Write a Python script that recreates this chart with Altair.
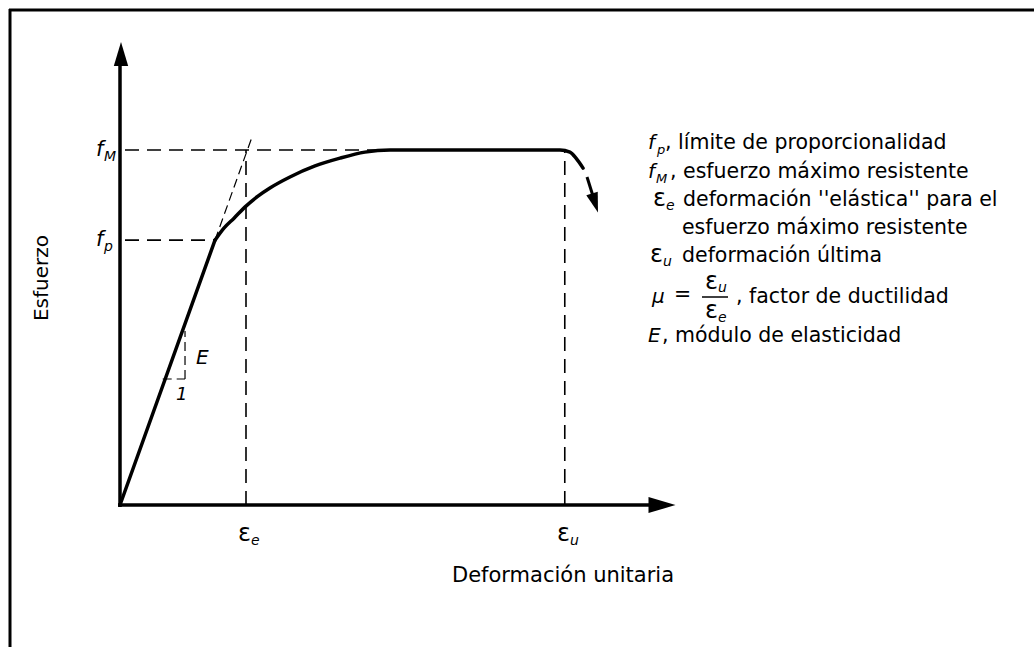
import altair as alt
import pandas as pd

# ---------------- values ----------------
# strain measured in units of eps_e, stress in units of f_M
eps_e = 1.0
eps_u = 3.53
f_M = 1.0
f_p = 0.746
eps_p = 0.754

# straight elastic branch
elastic_x = [0.0, 0.754]
elastic_y = [0.0, 0.746]
# curved inelastic branch, plateau and drop
plastic_x = [0.754, 0.825, 0.905, 1.0, 1.095, 1.190, 1.349, 1.548, 1.746, 1.944, 2.143,
             3.492, 3.571, 3.619, 3.675]
plastic_y = [0.746, 0.780, 0.808, 0.842, 0.870, 0.893, 0.924, 0.955, 0.977, 0.994, 1.0,
             1.0, 0.994, 0.977, 0.949]

legend_lines = [
    ", límite de proporcionalidad",
    ", esfuerzo máximo resistente",
    "deformación ''elástica'' para el",
    "esfuerzo máximo resistente",
    "deformación última",
    ", factor de ductilidad",
    ", módulo de elasticidad",
]
y_title = "Esfuerzo"
x_title = "Deformación unitaria"

# ---------------- layout helpers (pixel -> data) ----------------
W, H = 1034, 647
OX, OY = 120, 505          # origin
SX, SY = 126, 355          # pixels per unit


def X(px):
    return (px - OX) / SX


def Y(py):
    return (OY - py) / SY


xs = alt.Scale(domain=[X(0), X(W)], nice=False, zero=False)
ys = alt.Scale(domain=[Y(H), Y(0)], nice=False, zero=False)
FONT = "DejaVu Sans"


def xq(f="x"):
    return alt.X(f"{f}:Q", scale=xs, axis=None)


def yq(f="y"):
    return alt.Y(f"{f}:Q", scale=ys, axis=None)


# ---------------- main curve ----------------
elastic = alt.Chart(pd.DataFrame({"x": elastic_x, "y": elastic_y})).mark_line(
    color="black", strokeWidth=3.5, strokeCap="round"
).encode(x=xq(), y=yq(), order="x:Q")

plastic = alt.Chart(pd.DataFrame({"x": plastic_x, "y": plastic_y})).mark_line(
    color="black", strokeWidth=3.5, interpolate="monotone", strokeCap="round"
).encode(x=xq(), y=yq(), order="x:Q")

# ---------------- axes (lines) ----------------
E_mod = f_p / eps_p
axes_df = pd.DataFrame({
    "x": [0.0, X(118)],
    "y": [Y(507), 0.0],
    "x2": [0.0, X(655)],
    "y2": [Y(60), 0.0],
})
axes = alt.Chart(axes_df).mark_rule(color="black", strokeWidth=3.5).encode(
    x=xq(), y=yq(), x2="x2:Q", y2="y2:Q")

# ---------------- dashed guides ----------------
dash_df = pd.DataFrame({
    "x": [X(125), X(125), eps_e, eps_u],
    "y": [f_M, f_p, 0.0, 0.0],
    "x2": [eps_u, eps_p, eps_e, eps_u],
    "y2": [f_M, f_p, f_M, f_M],
})
dashed = alt.Chart(dash_df).mark_rule(
    color="black", strokeWidth=1.6, strokeDash=[14, 8]
).encode(x=xq(), y=yq(), x2="x2:Q", y2="y2:Q")

tri_x = 0.516
tri_y = 0.355
tri_top = 0.49
thin_df = pd.DataFrame({
    "x": [eps_p, tri_x, tri_y / E_mod - 0.02],
    "y": [f_p, tri_y, tri_y],
    "x2": [1.05, tri_x, tri_x],
    "y2": [1.05 * E_mod, tri_top, tri_y],
})
thin = alt.Chart(thin_df).mark_rule(
    color="black", strokeWidth=1.2, strokeDash=[9, 5]
).encode(x=xq(), y=yq(), x2="x2:Q", y2="y2:Q")

# ---------------- arrow heads ----------------
stem_df = pd.DataFrame({"x": [X(587)], "y": [Y(177)], "x2": [X(593)], "y2": [Y(196)]})
stem = alt.Chart(stem_df).mark_rule(color="black", strokeWidth=3).encode(
    x=xq(), y=yq(), x2="x2:Q", y2="y2:Q")

heads_df = pd.DataFrame({
    "x": [X(121), X(662), X(595)],
    "y": [Y(54), Y(505), Y(203)],
    "angle": [0, 90, 162.6],
    "size": [24 ** 2, 27 ** 2, 20 ** 2],
})
heads = alt.Chart(heads_df).mark_point(
    shape="M0,-1L0.6,1L-0.6,1Z", filled=True, color="black", opacity=1, strokeWidth=0
).encode(x=xq(), y=yq(),
         angle=alt.Angle("angle:Q", scale=None),
         size=alt.Size("size:Q", scale=None))

# ---------------- frame ----------------
frame_top = alt.Chart(pd.DataFrame({"a": [0]})).mark_rule(color="black", strokeWidth=3).encode(
    x=alt.value(9), x2=alt.value(W), y=alt.value(10))
frame_left = alt.Chart(pd.DataFrame({"a": [0]})).mark_rule(color="black", strokeWidth=3).encode(
    x=alt.value(10), y=alt.value(9), y2=alt.value(H))

# fraction bar in the legend
bar_df = pd.DataFrame({"x": [X(702)], "x2": [X(728)], "y": [Y(297)]})
frac_bar = alt.Chart(bar_df).mark_rule(color="black", strokeWidth=1.5).encode(
    x=xq(), x2="x2:Q", y=yq())

# ---------------- texts ----------------
normal_df = pd.DataFrame({
    "t": legend_lines[:5] + ["="] + legend_lines[5:],
    "x": [X(v) for v in [665, 670, 683, 682, 682, 674, 736, 662]],
    "y": [Y(v) for v in [143, 172, 200, 228, 256, 295, 297, 336]],
})
normal_txt = alt.Chart(normal_df).mark_text(
    align="left", baseline="middle", font=FONT, fontSize=20.5, color="black"
).encode(x=xq(), y=yq(), text="t:N")

ital_df = pd.DataFrame({
    "t": ["f", "p", "f", "M", "\u03bc", "E",
          "f", "M", "f", "p", "E", "1",
          "e", "u", "e", "u", "u", "e"],
    "x": [X(v) for v in [648, 657, 648, 656, 652, 648,
                         96, 104, 96, 104, 196, 176,
                         251, 570, 666, 663, 718, 718]],
    "y": [Y(v) for v in [143, 150, 172, 179, 297, 336,
                         150, 157, 240, 247, 358, 395,
                         541, 541, 206, 262, 288, 318]],
    "s": [20, 13, 20, 13, 20, 20,
          21, 14, 21, 14, 20, 18,
          14, 14, 14, 14, 14, 14],
})
ital_txt = alt.Chart(ital_df).mark_text(
    align="left", baseline="middle", font=FONT, fontStyle="italic", color="black"
).encode(x=xq(), y=yq(), text="t:N", size=alt.Size("s:Q", scale=None))

eps_df = pd.DataFrame({
    "t": ["\u03b5"] * 6,
    "x": [X(v) for v in [238, 557, 653, 650, 705, 705]],
    "y": [Y(v) for v in [534, 534, 199, 255, 282, 311]],
})
eps_txt = alt.Chart(eps_df).mark_text(
    align="left", baseline="middle", font=FONT, fontSize=24, color="black"
).encode(x=xq(), y=yq(), text="t:N")

title_df = pd.DataFrame({
    "t": [y_title, x_title],
    "x": [X(42), X(452)],
    "y": [Y(278), Y(576)],
    "a": [270, 0],
})
ytitle = alt.Chart(title_df.iloc[[0]]).mark_text(
    align="center", baseline="middle", font=FONT, fontSize=20, color="black"
).encode(x=xq(), y=yq(), text="t:N", angle=alt.Angle("a:Q", scale=None))
xtitle = alt.Chart(title_df.iloc[[1]]).mark_text(
    align="left", baseline="middle", font=FONT, fontSize=21, color="black"
).encode(x=xq(), y=yq(), text="t:N")

chart = alt.layer(
    frame_top, frame_left, dashed, thin, axes, elastic, plastic, stem, heads, frac_bar,
    normal_txt, ital_txt, eps_txt, ytitle, xtitle
).properties(
    width=W, height=H,
    autosize=alt.AutoSizeParams(type="none"),
    padding=0,
    background="white",
).configure_view(strokeWidth=0)

chart.save("out.html", embed_options={"renderer": "svg", "actions": False})
